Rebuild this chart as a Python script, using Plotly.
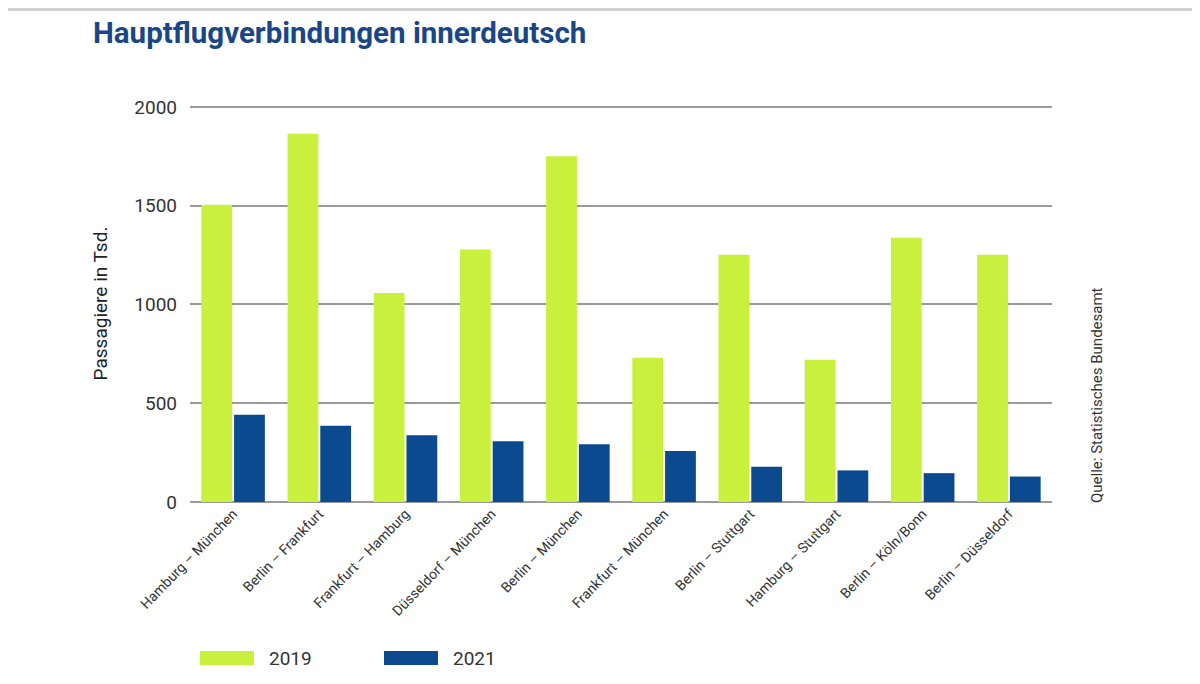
import plotly.graph_objects as go

routes = ["Hamburg – München", "Berlin – Frankfurt", "Frankfurt – Hamburg",
          "Düsseldorf – München", "Berlin – München", "Frankfurt – München",
          "Berlin – Stuttgart", "Hamburg – Stuttgart", "Berlin – Köln/Bonn",
          "Berlin – Düsseldorf"]
pax_2019 = [1505, 1865, 1058, 1278, 1750, 730, 1252, 720, 1338, 1252]
pax_2021 = [442, 386, 338, 308, 292, 258, 178, 160, 146, 129]
y_ticks = [0, 500, 1000, 1500, 2000]

green = "#c8f03c"
blue = "#0b4a8f"

# page body has an 8px margin, so figure is laid out 8px up/left
W, H = 1184, 668
PW, PH = 862, 397  # plot area size

fig = go.Figure()
fig.add_trace(go.Bar(x=routes, y=pax_2019, name="2019", marker_color=green,
                     marker_line_width=0, showlegend=False))
fig.add_trace(go.Bar(x=routes, y=pax_2021, name="2021", marker_color=blue,
                     marker_line_width=0, showlegend=False))

fig.update_layout(
    width=W, height=H,
    margin=dict(l=182, r=W - 182 - PW, t=97, b=H - 97 - PH),
    paper_bgcolor="white", plot_bgcolor="white",
    barmode="group", bargap=0.24, bargroupgap=0.06,
    font=dict(family="Roboto", color="#333333"),
    title=dict(text="<b>Hauptflugverbindungen innerdeutsch</b>",
               x=85 / W, xanchor="left", y=1 - 25 / H, yanchor="middle",
               font=dict(size=29.5, color="#1a4687", family="Roboto")),
)
fig.update_xaxes(tickangle=-46, tickfont=dict(size=14, color="#333333"),
                 showgrid=False, ticks="", showline=False)
fig.update_yaxes(range=[0, 2010], tickvals=y_ticks, ticks="", ticklen=0,
                 ticklabelstandoff=12,
                 tickfont=dict(size=19, color="#333333"),
                 showgrid=True, gridcolor="#9a9a9a", gridwidth=1.8,
                 zeroline=True, zerolinecolor="#9a9a9a", zerolinewidth=2.2,
                 title=dict(text="Passagiere in Tsd.", standoff=21,
                            font=dict(size=19, color="#222222")))

# source note on the right
fig.add_annotation(text="Quelle: Statistisches Bundesamt", textangle=-90,
                   xref="paper", yref="paper", x=1 + 45 / PW, y=-3 / PH,
                   xanchor="center", yanchor="bottom", showarrow=False,
                   font=dict(size=15, color="#333333"))

# legend drawn as swatches + labels
for x0, col, lbl in [(192, green, "2019"), (376, blue, "2021")]:
    fig.add_shape(type="rect", xref="paper", yref="paper",
                  x0=(x0 - 182) / PW, x1=(x0 + 54 - 182) / PW,
                  y0=(494 - 657) / PH, y1=(494 - 643) / PH,
                  fillcolor=col, line_width=0)
    fig.add_annotation(text=lbl, xref="paper", yref="paper",
                       x=(x0 + 67 - 182) / PW, y=(494 - 650) / PH,
                       xanchor="left", yanchor="middle", showarrow=False,
                       font=dict(size=19, color="#333333"))

# faint shadow band at the very top
fig.add_shape(type="rect", xref="paper", yref="paper",
              x0=-182 / PW, x1=1 + (W - 182 - PW) / PW,
              y0=1 + 94 / PH, y1=1 + 100 / PH,
              fillcolor="#d0d0d0", line_width=0)

fig.write_html("out.html")
